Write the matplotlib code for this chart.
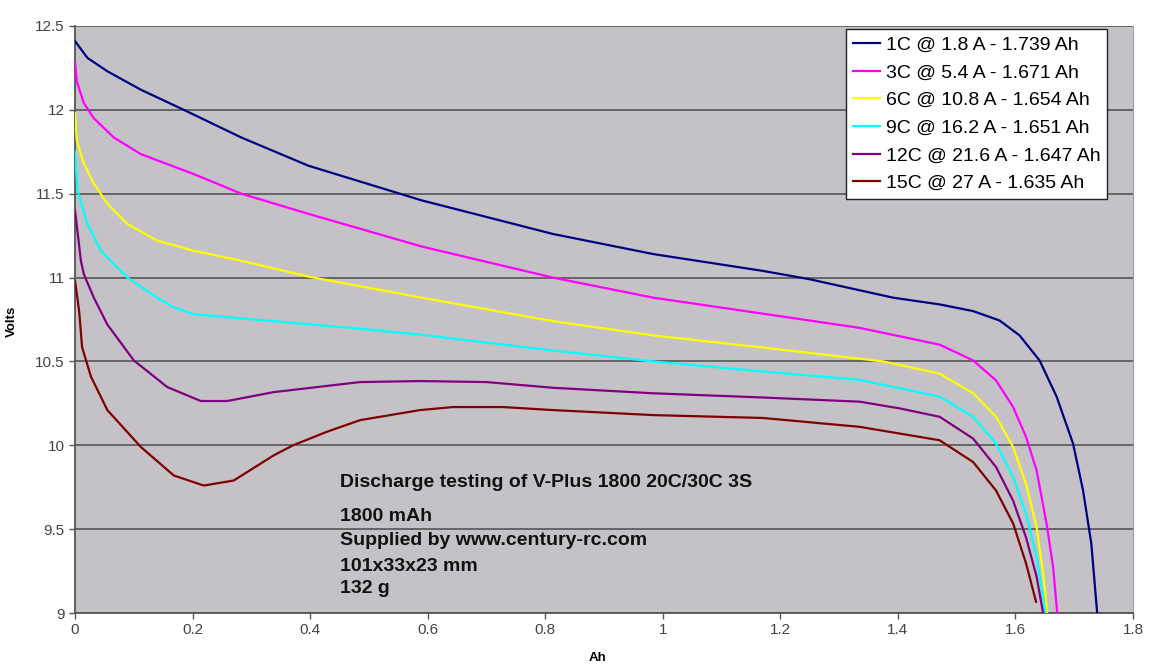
import matplotlib
matplotlib.use('Agg')
import matplotlib.pyplot as plt

plt.rcParams['font.family'] = ['Liberation Sans', 'DejaVu Sans']

# discharge curves (Ah, Volts)
x_1c = [0.0, 0.021, 0.055, 0.112, 0.185, 0.283, 0.397, 0.59, 0.813, 0.984, 1.17,
        1.25, 1.392, 1.471, 1.528, 1.573, 1.607, 1.641, 1.67, 1.698, 1.715, 1.729, 1.739]
y_1c = [12.41, 12.31, 12.23, 12.12, 12.0, 11.835, 11.667, 11.46, 11.26, 11.14, 11.04,
        10.99, 10.88, 10.84, 10.80, 10.744, 10.655, 10.506, 10.29, 10.01, 9.73, 9.415, 9.0]

x_3c = [0.0, 0.003, 0.015, 0.032, 0.066, 0.112, 0.202, 0.283, 0.397, 0.59, 0.813, 0.984, 1.17,
        1.335, 1.471, 1.528, 1.567, 1.596, 1.618, 1.636, 1.653, 1.664, 1.671]
y_3c = [12.29, 12.17, 12.04, 11.95, 11.835, 11.736, 11.617, 11.50, 11.38, 11.185, 11.0, 10.88, 10.785,
        10.70, 10.60, 10.506, 10.387, 10.228, 10.05, 9.85, 9.53, 9.276, 9.0]

x_6c = [0.0, 0.003, 0.015, 0.032, 0.055, 0.089, 0.14, 0.202, 0.283, 0.397, 0.59, 0.813, 0.984,
        1.17, 1.375, 1.471, 1.528, 1.567, 1.596, 1.618, 1.636, 1.647, 1.654]
y_6c = [11.98, 11.815, 11.68, 11.56, 11.44, 11.32, 11.22, 11.16, 11.10, 11.006, 10.88, 10.74, 10.655,
        10.583, 10.50, 10.427, 10.31, 10.17, 9.99, 9.77, 9.51, 9.236, 9.0]

x_9c = [0.0, 0.004, 0.021, 0.044, 0.089, 0.14, 0.168, 0.202, 0.225, 0.338, 0.485, 0.587, 0.813,
        0.984, 1.17, 1.335, 1.471, 1.528, 1.567, 1.596, 1.618, 1.636, 1.651]
y_9c = [11.75, 11.52, 11.32, 11.16, 11.0, 10.88, 10.823, 10.78, 10.774, 10.74, 10.695, 10.66, 10.565,
        10.50, 10.44, 10.39, 10.29, 10.17, 10.01, 9.81, 9.59, 9.335, 9.0]

x_12c = [0.0, 0.01, 0.015, 0.032, 0.055, 0.1, 0.157, 0.214, 0.259, 0.338, 0.485, 0.587, 0.70,
         0.813, 0.984, 1.17, 1.335, 1.403, 1.471, 1.528, 1.567, 1.596, 1.618, 1.636, 1.647]
y_12c = [11.40, 11.10, 11.02, 10.88, 10.72, 10.506, 10.347, 10.264, 10.264, 10.317, 10.377, 10.383, 10.377,
         10.343, 10.31, 10.285, 10.26, 10.22, 10.17, 10.04, 9.87, 9.67, 9.45, 9.216, 9.0]

x_15c = [0.0, 0.007, 0.012, 0.027, 0.055, 0.112, 0.168, 0.219, 0.27, 0.338, 0.371, 0.428,
         0.485, 0.587, 0.643, 0.728, 0.813, 0.984, 1.17, 1.335, 1.42, 1.471, 1.528, 1.567,
         1.596, 1.618, 1.635]
y_15c = [10.98, 10.80, 10.585, 10.41, 10.21, 9.99, 9.82, 9.76, 9.79, 9.94, 10.0, 10.08,
         10.15, 10.21, 10.228, 10.228, 10.21, 10.18, 10.163, 10.11, 10.06, 10.03, 9.90, 9.73,
         9.534, 9.296, 9.067]

series = [
    (x_1c, y_1c, '1C @ 1.8 A - 1.739 Ah', '#000080'),
    (x_3c, y_3c, '3C @ 5.4 A - 1.671 Ah', '#ff00ff'),
    (x_6c, y_6c, '6C @ 10.8 A - 1.654 Ah', '#ffff00'),
    (x_9c, y_9c, '9C @ 16.2 A - 1.651 Ah', '#00ffff'),
    (x_12c, y_12c, '12C @ 21.6 A - 1.647 Ah', '#800080'),
    (x_15c, y_15c, '15C @ 27 A - 1.635 Ah', '#800000'),
]

notes = ['Discharge testing of V-Plus 1800 20C/30C 3S', '1800 mAh',
         'Supplied by www.century-rc.com', '101x33x23 mm', '132 g']
note_y = [9.78, 9.573, 9.43, 9.28, 9.147]

fig = plt.figure(figsize=(11.49, 6.68), dpi=100)
ax = fig.add_axes([0.0653, 0.0823, 0.9208, 0.8788])
ax.set_facecolor('#c4c2c6')

for xs, ys, label, color in series:
    ax.plot(xs, ys, color=color, lw=1.6, label=label, zorder=3,
            solid_joinstyle='round')

ax.set_xlim(0, 1.8)
ax.set_ylim(9, 12.5)
ax.set_xticks([0, 0.2, 0.4, 0.6, 0.8, 1, 1.2, 1.4, 1.6, 1.8])
ax.set_xticklabels(['0', '0.2', '0.4', '0.6', '0.8', '1', '1.2', '1.4', '1.6', '1.8'])
ax.set_yticks([9, 9.5, 10, 10.5, 11, 11.5, 12, 12.5])
ax.set_yticklabels(['9', '9.5', '10', '10.5', '11', '11.5', '12', '12.5'])
ax.grid(axis='y', color='#5e5e5e', lw=1.3, zorder=1)
ax.set_axisbelow(True)
ax.tick_params(labelsize=11, labelcolor='#444444', color='#555555', length=4, width=1)

for side in ['left', 'bottom']:
    ax.spines[side].set_color('#555555')
    ax.spines[side].set_linewidth(1.3)
ax.spines['top'].set_visible(False)
ax.spines['right'].set_color('#a0a0a0')

ax.set_xlabel('Ah', fontsize=9.5, fontweight='bold')
ax.set_ylabel('Volts', fontsize=9.5, fontweight='bold')
ax.xaxis.set_label_coords(0.494, -0.066)
ax.yaxis.set_label_coords(-0.054, 0.496)

for txt, yv in zip(notes, note_y):
    ax.text(0.451, yv, txt, fontsize=14, fontweight='bold', va='center', ha='left', color='#111111')

leg = ax.legend(loc='upper left', bbox_to_anchor=(0.7287, 0.9944), borderaxespad=0,
                fontsize=14, frameon=True, fancybox=False, framealpha=1,
                handlelength=1.4, handletextpad=0.3, labelspacing=0.52, borderpad=0.35)
leg.get_frame().set_edgecolor('#222222')
leg.get_frame().set_linewidth(1.0)

fig.savefig('out.png', dpi=100, facecolor='white')
